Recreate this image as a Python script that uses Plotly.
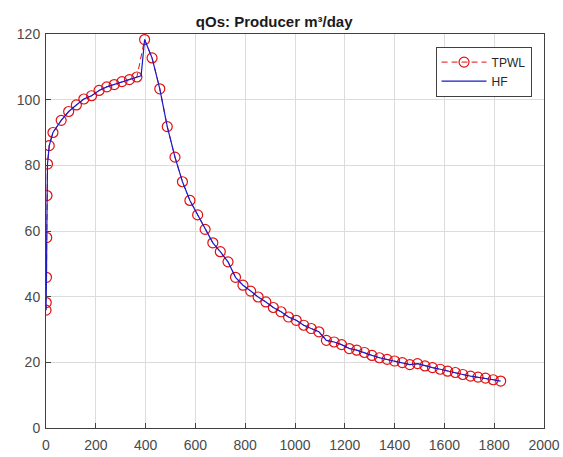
import plotly.graph_objects as go

# TPWL series (days, m3/day)
tpwl_days = [0, 1, 2, 3, 4, 6, 13, 28, 61, 91, 122, 152, 183, 213, 244, 274, 305, 335, 365,
             396, 426, 457, 487, 518, 548, 578, 609, 639, 670, 700, 731, 761, 791, 822, 852,
             883, 913, 944, 974, 1005, 1035, 1065, 1096, 1126, 1157, 1187, 1218, 1248, 1279,
             1309, 1339, 1370, 1400, 1431, 1461, 1492, 1522, 1552, 1583, 1613, 1644, 1674,
             1705, 1735, 1765, 1796, 1826]
tpwl_rate = [35.9, 38.2, 45.9, 58.0, 70.8, 80.4, 86.0, 90.0, 93.7, 96.4, 98.4, 100.2, 101.2,
             102.8, 103.9, 104.6, 105.5, 106.1, 106.9, 118.3, 112.7, 103.3, 91.8, 82.5, 75.0,
             69.3, 64.9, 60.5, 56.4, 53.7, 50.6, 45.9, 43.5, 41.7, 39.9, 38.4, 36.7, 35.4,
             33.8, 32.8, 31.3, 30.3, 29.3, 26.7, 26.2, 25.4, 24.2, 23.7, 23.0, 22.1, 21.4,
             20.9, 20.4, 19.9, 19.3, 19.6, 18.9, 18.4, 17.9, 17.3, 16.9, 16.3, 15.8, 15.5,
             15.2, 14.7, 14.3]

# HF series (days, m3/day)
hf_days = [0, 1, 2, 3, 4, 6, 13, 28, 61, 91, 122, 152, 183, 213, 244, 274, 305, 335, 365, 382,
           396, 426, 457, 487, 518, 548, 578, 609, 639, 670, 700, 731, 761, 791, 822, 852,
           883, 913, 944, 974, 1005, 1035, 1065, 1096, 1126, 1157, 1187, 1218, 1248, 1279,
           1309, 1339, 1370, 1400, 1431, 1461, 1492, 1522, 1552, 1583, 1613, 1644, 1674,
           1705, 1735, 1765, 1796, 1826]
hf_rate = [35.9, 38.2, 45.9, 58.0, 70.8, 80.4, 86.0, 90.0, 93.7, 96.4, 98.4, 100.2, 101.2,
           102.8, 103.9, 104.6, 105.5, 106.1, 106.9, 107.3, 118.3, 112.7, 103.3, 91.8, 82.5, 75.0,
           69.3, 64.9, 60.5, 56.4, 53.7, 50.6, 45.9, 43.5, 41.7, 39.9, 38.4, 36.7, 35.4,
           33.8, 32.8, 31.3, 30.3, 29.3, 26.7, 26.2, 25.4, 24.2, 23.7, 23.0, 22.1, 21.4,
           20.9, 20.4, 19.9, 19.3, 19.6, 18.9, 18.4, 17.9, 17.3, 16.9, 16.3, 15.8, 15.5,
           15.2, 14.7, 14.3]

x_ticks = [0, 200, 400, 600, 800, 1000, 1200, 1400, 1600, 1800, 2000]
y_ticks = [0, 20, 40, 60, 80, 100, 120]

fig = go.Figure()
fig.add_trace(go.Scatter(
    x=tpwl_days, y=tpwl_rate, name="TPWL", mode="lines+markers",
    line=dict(color="#e01010", width=1, dash="6px,4px"),
    marker=dict(symbol="circle-open", size=10, color="#e01010", line=dict(width=1.2)),
))
fig.add_trace(go.Scatter(
    x=hf_days, y=hf_rate, name="HF", mode="lines",
    line=dict(color="#1a1acc", width=1.2),
))

axis_common = dict(
    showgrid=True, gridcolor="#dcdcdc", gridwidth=1,
    showline=True, linecolor="#404040", linewidth=1, mirror=True,
    ticks="inside", ticklen=5, tickcolor="#404040",
    zeroline=False, automargin=False,
    tickfont=dict(family="Liberation Sans, Arial", size=14, color="#4a4a4a"),
)

fig.update_layout(
    width=563, height=457,
    margin=dict(l=46, r=19, t=34, b=29),
    paper_bgcolor="white", plot_bgcolor="white",
    title=dict(text="<b>qOs: Producer m³/day</b>", x=0.487, xref="container", xanchor="center",
               y=0.952, yref="container", yanchor="middle",
               font=dict(family="Liberation Sans, Arial", size=15, color="#1a1a1a")),
    xaxis=dict(range=[0, 2000], tickvals=x_ticks, ticklabelstandoff=4, **axis_common),
    yaxis=dict(range=[0, 120], tickvals=y_ticks, ticklabelstandoff=2, **axis_common),
    showlegend=True,
    legend=dict(x=0.975, y=0.968, xanchor="right", yanchor="top",
                bgcolor="white", bordercolor="#404040", borderwidth=1,
                font=dict(family="Liberation Sans, Arial", size=12, color="#262626"),
                tracegroupgap=0, itemwidth=45),
)

fig.write_html("out.html")
